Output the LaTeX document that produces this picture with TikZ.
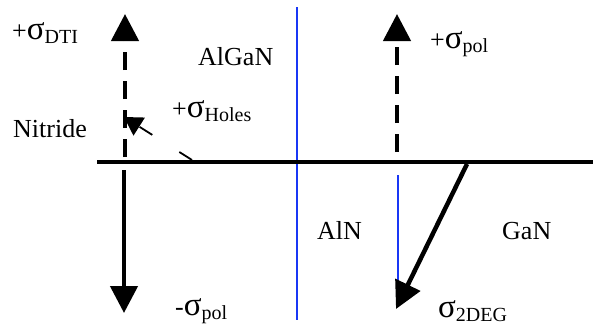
\documentclass[tikz,border=0pt]{standalone}
\usepackage{fontspec}
\setmainfont{Liberation Serif}
\usetikzlibrary{arrows.meta}
\definecolor{figBl}{RGB}{25,55,245}
\newcommand{\sgm}[1]{{\fontsize{33}{30}\selectfont σ}\raisebox{-4pt}{\fontsize{20}{20}\selectfont #1}}

\begin{document}
\begin{tikzpicture}[x=1pt,y=-1pt,>={Triangle[length=27pt,width=27pt]},
  lbl/.style={anchor=base west,inner sep=0pt,font=\fontsize{26}{30}\selectfont},
  bar/.style={line width=4.5pt},
  dsh/.style={bar,dash pattern=on 18pt off 11pt}]
\useasboundingbox (0,0) rectangle (593,324);
% interface and layer boundaries
\coordinate (iL) at (97,162); \coordinate (iR) at (593,162);
\coordinate (b1t) at (297,7); \coordinate (b1b) at (297,320);
\coordinate (b2t) at (398,175); \coordinate (b2b) at (398,288);
\draw[figBl,line width=1.6pt] (b1t)--(b1b);
\draw[figBl,line width=1.6pt] (b2t)--(b2b);
\draw[bar] (iL)--(iR);
% charges
\coordinate (dtiS) at (125,157); \coordinate (dtiE) at (125,14);
\coordinate (negS) at (124,170); \coordinate (negE) at (124,313);
\coordinate (polS) at (397,152); \coordinate (polE) at (397,14);
\coordinate (degS) at (467,164); \coordinate (degE) at (396,309);
\coordinate (holS) at (192,160); \coordinate (holE) at (124,117);
\draw[->,dsh] (dtiS)--(dtiE);
\draw[->,bar] (negS)--(negE);
\draw[->,dsh] (polS)--(polE);
\draw[->,bar] (degS)--(degE);
\draw[-{Triangle[length=18pt,width=21pt]},line width=1.8pt,dash pattern=on 15pt off 32pt] (holS)--(holE);
% labels
\node[lbl] (tDti) at (12,39) {+\sgm{DTI}};
\node[lbl] (tAlGaN) at (198,65) {AlGaN};
\node[lbl] (tNit) at (13,137) {Nitride};
\node[lbl] (tHol) at (172,117) {+\sgm{Holes}};
\node[lbl] (tPol) at (430,48) {+\sgm{pol}};
\node[lbl] (tNeg) at (175,315) {-\sgm{pol}};
\node[lbl] (tAlN) at (317,239) {AlN};
\node[lbl] (tGaN) at (502,239) {GaN};
\node[lbl] (tDeg) at (438,317) {\sgm{2DEG}};
\end{tikzpicture}
\end{document}
